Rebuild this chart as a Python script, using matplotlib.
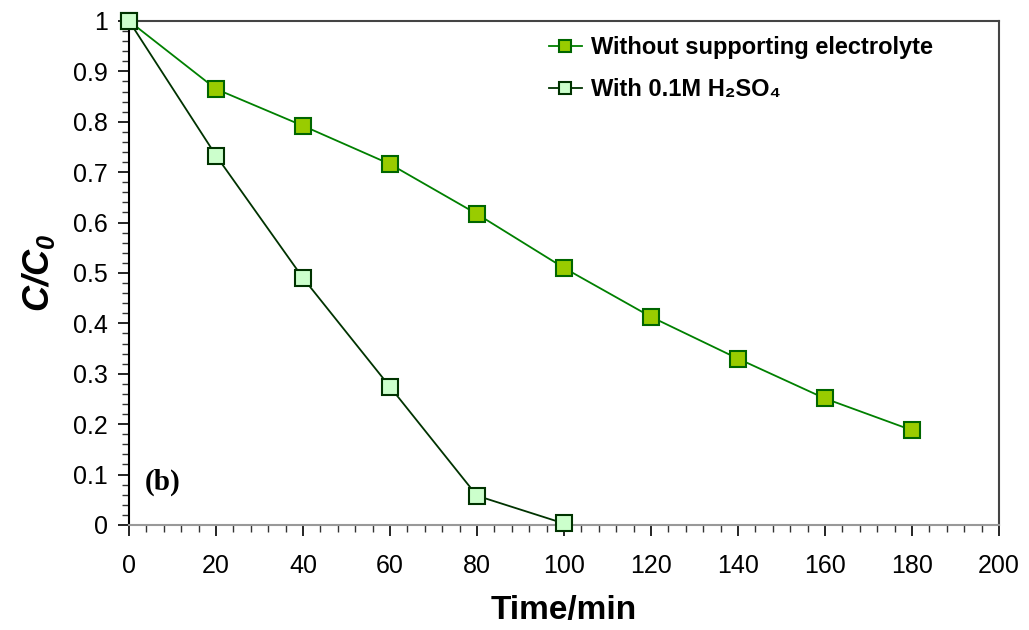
import matplotlib
matplotlib.use("Agg")
import matplotlib.pyplot as plt
from matplotlib.ticker import MultipleLocator, FuncFormatter

plt.rcParams['font.family'] = ['Liberation Sans', 'DejaVu Sans']
plt.rcParams['mathtext.fontset'] = 'custom'
plt.rcParams['mathtext.rm'] = 'Liberation Sans'
plt.rcParams['mathtext.it'] = 'Liberation Sans:italic'
plt.rcParams['mathtext.bf'] = 'Liberation Sans:bold'
plt.rcParams['mathtext.bfit'] = 'Liberation Sans:italic:bold'

time_a = [0, 20, 40, 60, 80, 100, 120, 140, 160, 180]
without_se = [1.0, 0.865, 0.792, 0.716, 0.617, 0.510, 0.413, 0.330, 0.251, 0.188]
time_b = [0, 20, 40, 60, 80, 100]
with_h2so4 = [1.0, 0.733, 0.490, 0.274, 0.058, 0.003]
label_a = 'Without supporting electrolyte'
label_b = 'With 0.1M H₂SO₄'

fig = plt.figure(figsize=(10.29, 6.3), dpi=100)
ax = fig.add_axes([0.1254, 0.1667, 0.8454, 0.8])

ax.plot(time_a, without_se, color='#008000', lw=1.3, marker='s', ms=12,
        mfc='#99cc00', mec='#006600', mew=1.5, label=label_a, zorder=3, clip_on=False)
ax.plot(time_b, with_h2so4, color='#003300', lw=1.3, marker='s', ms=12,
        mfc='#ccffcc', mec='#003300', mew=1.5, label=label_b, zorder=4, clip_on=False)

ax.set_xlim(0, 200)
ax.set_ylim(0, 1)
ax.xaxis.set_major_locator(MultipleLocator(20))
ax.xaxis.set_minor_locator(MultipleLocator(4))
ax.yaxis.set_major_locator(MultipleLocator(0.1))
ax.yaxis.set_minor_locator(MultipleLocator(0.02))
ax.yaxis.set_major_formatter(FuncFormatter(lambda v, p: f'{v:.1f}'.rstrip('0').rstrip('.') if v != 0 else '0'))

ax.tick_params(axis='both', which='major', direction='out', length=8, width=1.2,
               labelsize=18, color='black')
ax.tick_params(axis='x', which='major', pad=13)
ax.tick_params(axis='y', which='major', pad=7)
ax.tick_params(axis='both', which='minor', direction='out', length=5, width=1.0, color='#333333')

for s in ['top', 'right']:
    ax.spines[s].set_color('#444444')
    ax.spines[s].set_linewidth(1.5)
ax.spines['bottom'].set_color('#999999')
ax.spines['bottom'].set_linewidth(1.5)
ax.spines['left'].set_color('black')
ax.spines['left'].set_linewidth(1.5)

ax.set_xlabel('Time/min', fontsize=24, fontweight='bold', labelpad=12)
ax.set_ylabel(r'$\mathbfit{C/C_0}$', fontsize=26, labelpad=12)

ax.text(0.018, 0.085, '(b)', transform=ax.transAxes, fontsize=21, fontweight='bold',
        family='Liberation Serif', va='center', ha='left')

leg = ax.legend(loc='upper left', bbox_to_anchor=(0.458, 1.012), frameon=False,
                prop={'weight': 'bold', 'size': 17}, handlelength=1.4, handletextpad=0.4,
                labelspacing=0.8, markerscale=0.75)

fig.savefig('out.png', dpi=100)
